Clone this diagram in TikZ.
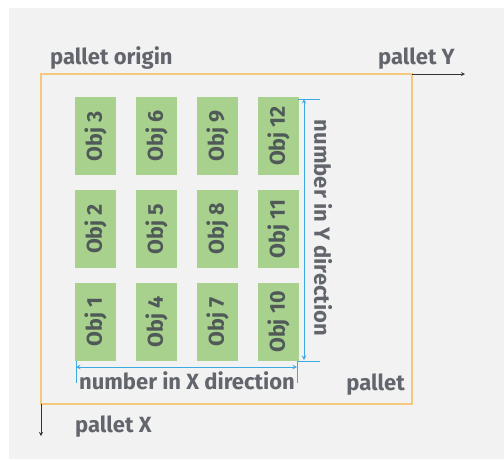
\documentclass[tikz,border=0pt]{standalone}
\usepackage{fontspec}
\setmainfont{Fira Sans}
\usetikzlibrary{calc}
\definecolor{bggray}{HTML}{F2F2F2}
\definecolor{palletorange}{HTML}{F5C77E}
\definecolor{objgreen}{HTML}{A9D18E}
\definecolor{objtext}{HTML}{4F5A58}
\definecolor{labelgray}{HTML}{62666C}
\definecolor{dimblue}{HTML}{3DA9E3}
\tikzstyle{pallet}=[draw=palletorange, line width=1.2pt]
\tikzstyle{axis}=[draw=black!80, line width=0.8pt, ->, >=stealth]
\tikzstyle{objbox}=[fill=objgreen, minimum width=78pt, minimum height=41pt, inner sep=0pt, font=\fontsize{21.5}{21.5}\selectfont\bfseries, text=objtext]
\tikzstyle{lbl}=[font=\fontsize{22}{22}\selectfont\bfseries, text=labelgray, inner sep=0pt]
\tikzstyle{dim}=[draw=dimblue, line width=1pt]
\tikzstyle{dimarrow}=[dim, <->, >=stealth]

\begin{document}
\begin{tikzpicture}[x=1pt,y=-1pt]
\useasboundingbox (0,0) rectangle (504,459);
\fill[bggray] (9,8) rectangle (504,459);
% pallet
\coordinate (o) at (41,74);
\coordinate (py) at (412,74);
\coordinate (pb) at (412,404);
\coordinate (px) at (41,404);
\coordinate (yend) at (465,74);
\coordinate (xend) at (41,436);
\draw[pallet] (o) rectangle (pb);
\draw[axis] (py) -- (yend);
\draw[axis] (px) -- (xend);
\node[lbl, anchor=base west] (origin) at (50,64) {pallet origin};
\node[lbl, anchor=base east] (ylbl) at (455,64) {pallet Y};
\node[lbl, anchor=base east] (plbl) at (405,390) {pallet};
\node[lbl, anchor=base west] (xlbl) at (75,432) {pallet X};
% objects
\foreach \c in {0,...,3}
  \foreach \r in {0,1,2} {
    \pgfmathtruncatemacro{\n}{3*\c+3-\r}
    \node[objbox, rotate=90] (obj\n) at (95.5+61*\c, 136+93*\r) {Obj \n};
  }
% Y dimension
\coordinate (yt) at (304,99);
\coordinate (yb) at (304,360);
\draw[dim] (298,99) -- (320,99);
\draw[dim] (298,361) -- (320,361);
\draw[dimarrow] (yt) -- (yb);
\node[lbl, rotate=-90] (ydir) at (323,228) {number in Y direction};
% X dimension
\coordinate (xl) at (76,367);
\coordinate (xr) at (297,367);
\draw[dim] (76,361) -- (76,383);
\draw[dim] (297,361) -- (297,383);
\draw[dimarrow] (xl) -- (xr);
\node[lbl, anchor=base] (xdir) at (187,389) {number in X direction};
\end{tikzpicture}
\end{document}
